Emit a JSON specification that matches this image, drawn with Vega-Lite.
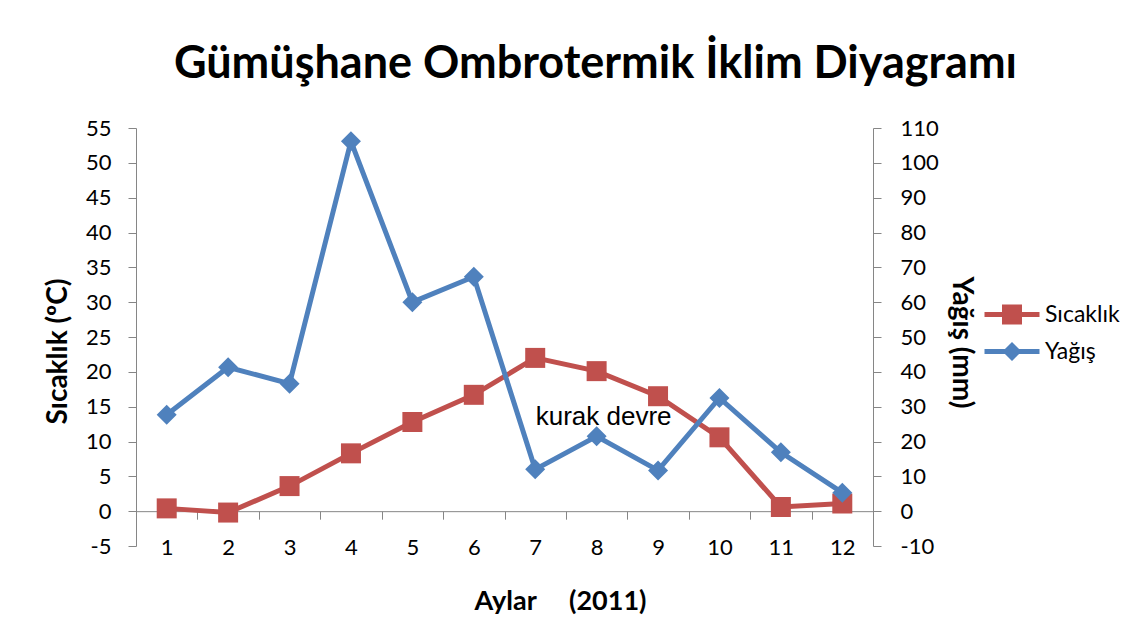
{
  "$schema": "https://vega.github.io/schema/vega-lite/v6.json",
  "width": 737,
  "height": 418,
  "autosize": {"type": "none"},
  "padding": {"left": 136, "top": 128, "right": 273, "bottom": 78},
  "background": "white",
  "config": {
    "view": {"stroke": null},
    "font": "Lato",
    "axis": {
      "grid": false,
      "domainColor": "#868686",
      "tickColor": "#868686",
      "domainWidth": 1,
      "tickWidth": 1,
      "labelColor": "#000000",
      "titleColor": "#000000",
      "labelFont": "Lato",
      "titleFont": "Lato",
      "labelFontSize": 22,
      "titleFontSize": 28,
      "titleFontWeight": "bold",
      "tickSize": 8
    }
  },
  "title": {
    "text": "Gümüşhane Ombrotermik İklim Diyagramı",
    "font": "Lato",
    "fontSize": 45,
    "fontWeight": "bold",
    "color": "#000000",
    "anchor": "middle",
    "dx": 91,
    "offset": 30
  },
  "data": {
    "values": [
      {"ay": 1, "sicaklik": 0.4, "yagis": 27.7},
      {"ay": 2, "sicaklik": -0.2, "yagis": 41.3},
      {"ay": 3, "sicaklik": 3.6, "yagis": 36.6},
      {"ay": 4, "sicaklik": 8.3, "yagis": 106.2},
      {"ay": 5, "sicaklik": 12.8, "yagis": 60.0},
      {"ay": 6, "sicaklik": 16.7, "yagis": 67.3},
      {"ay": 7, "sicaklik": 22.0, "yagis": 12.0},
      {"ay": 8, "sicaklik": 20.1, "yagis": 21.5},
      {"ay": 9, "sicaklik": 16.5, "yagis": 11.7},
      {"ay": 10, "sicaklik": 10.6, "yagis": 32.5},
      {"ay": 11, "sicaklik": 0.6, "yagis": 16.9},
      {"ay": 12, "sicaklik": 1.1, "yagis": 5.3}
    ]
  },
  "encoding": {
    "x": {
      "field": "ay",
      "type": "ordinal",
      "bandPosition": 0.5,
      "scale": {"type": "band", "paddingInner": 0, "paddingOuter": 0},
      "axis": {
        "title": "Aylar\u00a0\u00a0\u00a0\u00a0\u00a0(2011)",
        "titleFontSize": 27,
        "titleX": 424,
        "titleY": 98,
        "titleAlign": "center",
        "titleBaseline": "alphabetic",
        "labelAngle": 0,
        "offset": -34.83,
        "tickBand": "extent",
        "labelPadding": 18,
        "encode": {"ticks": {"update": {"y": {"value": -8}}}}
      }
    }
  },
  "layer": [
    {
      "encoding": {
        "y": {
          "field": "sicaklik",
          "type": "quantitative",
          "scale": {"domain": [-5, 55], "nice": false, "zero": false},
          "axis": {
            "title": "Sıcaklık (ºC)",
            "values": [-5, 0, 5, 10, 15, 20, 25, 30, 35, 40, 45, 50, 55],
            "labelExpr": "'' + datum.value",
            "labelPadding": 17,
            "titleX": -70,
            "titleY": 223,
            "titleAlign": "center",
            "titleBaseline": "alphabetic",
            "titleAngle": -90,
            "encode": {"ticks": {"update": {"x": {"value": 8}}}}
          }
        }
      },
      "layer": [
        {
          "mark": {"type": "line", "strokeWidth": 5},
          "encoding": {
            "color": {
              "datum": "Sıcaklık",
              "scale": {"domain": ["Sıcaklık", "Yağış"], "range": ["#C0504D", "#4F81BD"]},
              "legend": {
                "title": null,
                "orient": "none",
                "legendX": 846,
                "legendY": 174,
                "symbolSize": 400,
                "symbolStrokeWidth": 5,
                "labelFont": "Lato",
                "labelFontSize": 23,
                "labelColor": "#000000",
                "labelOffset": 38,
                "rowPadding": 3,
                "encode": {
                  "symbols": {
                    "update": {
                      "shape": {"signal": "datum.value === 'Sıcaklık' ? 'M-1,0L4.5,0M1,-0.75L2.5,-0.75L2.5,0.75L1,0.75Z' : 'M-1,0L4.5,0M1.75,-0.6L2.35,0L1.75,0.6L1.15,0Z'"},
                      "fill": {"signal": "datum.value === 'Sıcaklık' ? '#C0504D' : '#4F81BD'"},
                      "stroke": {"signal": "datum.value === 'Sıcaklık' ? '#C0504D' : '#4F81BD'"},
                      "strokeWidth": {"value": 5},
                      "opacity": {"value": 1},
                      "fillOpacity": {"value": 1},
                      "size": {"value": 400}
                    }
                  }
                }
              }
            }
          }
        },
        {
          "mark": {"type": "point", "filled": true, "size": 400, "opacity": 1, "shape": "square"},
          "encoding": {"color": {"datum": "Sıcaklık"}}
        },
        {
          "data": {"values": [{"ay": 8, "sicaklik": 12.4, "etiket": "kurak devre"}]},
          "mark": {"type": "text", "font": "Liberation Sans", "fontSize": 26, "align": "center", "baseline": "alphabetic", "dx": 7, "color": "#000000"},
          "encoding": {
            "text": {"field": "etiket"}
          }
        }
      ]
    },
    {
      "encoding": {
        "y": {
          "field": "yagis",
          "type": "quantitative",
          "scale": {"domain": [-10, 110], "nice": false, "zero": false},
          "axis": {
            "orient": "right",
            "title": "Yağış (mm)",
            "values": [-10, 0, 10, 20, 30, 40, 50, 60, 70, 80, 90, 100, 110],
            "labelExpr": "'' + datum.value",
            "labelPadding": 19,
            "titleX": 79,
            "titleY": 214,
            "titleAlign": "center",
            "titleBaseline": "alphabetic",
            "titleAngle": 90,
            "encode": {"ticks": {"update": {"x": {"value": -8}}}}
          }
        }
      },
      "layer": [
        {
          "mark": {"type": "line", "strokeWidth": 5},
          "encoding": {"color": {"datum": "Yağış"}}
        },
        {
          "mark": {"type": "point", "filled": true, "size": 400, "opacity": 1, "shape": "diamond"},
          "encoding": {"color": {"datum": "Yağış"}}
        }
      ]
    }
  ],
  "resolve": {"scale": {"y": "independent"}}
}
